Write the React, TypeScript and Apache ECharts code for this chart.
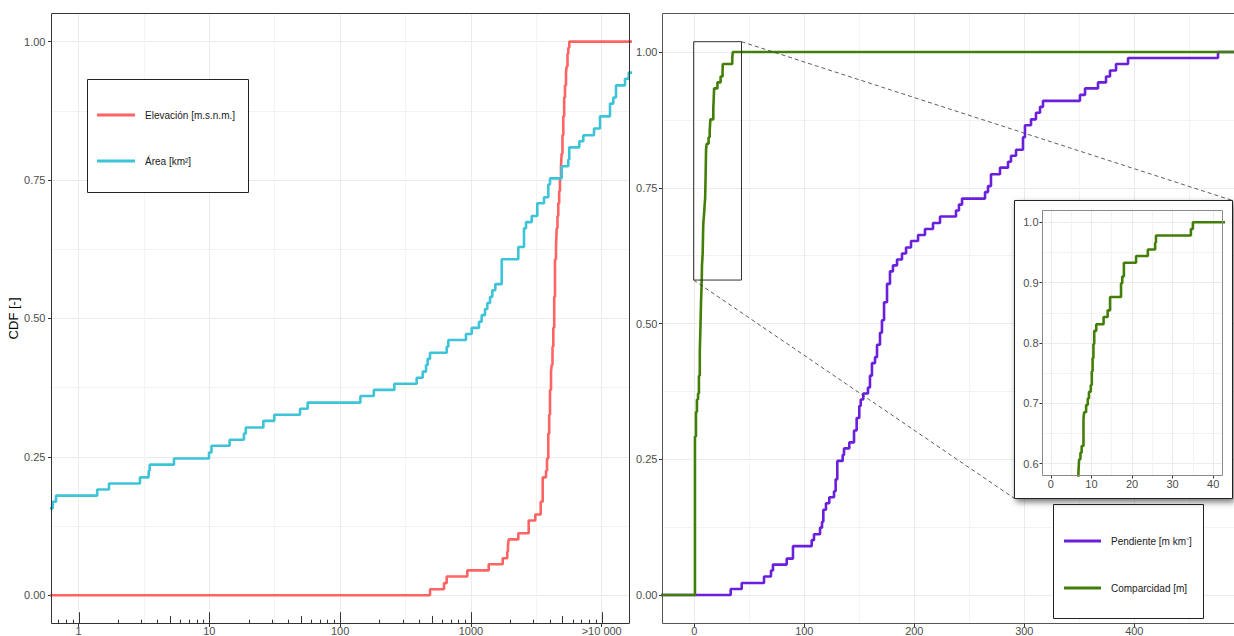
import React, { useEffect, useRef } from 'react';
import * as echarts from 'echarts';

// ---------------- data ----------------
// Left panel, log x: [value, CDF]
const elevacionCDF: number[][] = [
  [0.3, 0], [487, 0.011], [623, 0.022], [653, 0.034], [939, 0.045], [1368, 0.056], [1750, 0.067],
  [1897, 0.079], [1921, 0.09], [1945, 0.101], [2304, 0.112], [2766, 0.135], [3108, 0.146], [3417, 0.169],
  [3539, 0.213], [3752, 0.225], [3818, 0.247], [3906, 0.292], [3968, 0.326], [4025, 0.371], [4097, 0.404],
  [4148, 0.416], [4206, 0.449], [4266, 0.483], [4335, 0.539], [4395, 0.607], [4473, 0.629], [4529, 0.663],
  [4592, 0.685], [4657, 0.708], [4731, 0.73], [4798, 0.753], [4883, 0.775], [4944, 0.798], [5014, 0.831],
  [5085, 0.865], [5166, 0.899], [5240, 0.921], [5334, 0.944], [5399, 0.955], [5476, 0.978], [5555, 0.989],
  [5653, 1.0], [100000, 1.0],
];
const areaCDF: number[][] = [
  [0.3, 0.157], [0.635, 0.169], [0.673, 0.18], [1.39, 0.191], [1.71, 0.202], [2.95, 0.213], [3.44, 0.225],
  [3.5, 0.236], [5.37, 0.247], [9.95, 0.258], [10.4, 0.27], [14.3, 0.281], [18.4, 0.292], [19.0, 0.303],
  [25.9, 0.315], [31.4, 0.326], [49.4, 0.337], [56.5, 0.348], [143, 0.36], [181, 0.371], [260, 0.382],
  [385, 0.393], [428, 0.404], [454, 0.416], [467, 0.427], [487, 0.438], [653, 0.449], [672, 0.461],
  [917, 0.472], [1014, 0.483], [1153, 0.494], [1209, 0.506], [1282, 0.517], [1335, 0.528], [1400, 0.539],
  [1458, 0.551], [1537, 0.562], [1720, 0.607], [2304, 0.629], [2547, 0.663], [2638, 0.674], [2916, 0.685],
  [3218, 0.708], [3622, 0.719], [3906, 0.742], [4025, 0.753], [4945, 0.775], [5555, 0.787], [5653, 0.809],
  [6742, 0.82], [7234, 0.831], [8733, 0.843], [9706, 0.865], [11573, 0.888], [12265, 0.899], [12862, 0.921],
  [15074, 0.933], [16100, 0.944], [18000, 0.955], [20000, 0.966], [24000, 0.978], [28000, 0.989],
  [32000, 1.0], [100000, 1.0],
];
// Right panel, linear x: [value, CDF]
const pendienteCDF: number[][] = [
  [-100, 0], [33.1, 0.011], [43.1, 0.022], [63.4, 0.034], [69.7, 0.045], [71.5, 0.056], [84.0, 0.067],
  [89.7, 0.09], [106.7, 0.101], [108.8, 0.112], [114.3, 0.124], [116.1, 0.135], [117.3, 0.157],
  [119.7, 0.169], [122.7, 0.18], [127.0, 0.191], [128.5, 0.213], [130.0, 0.247], [134.9, 0.258],
  [136.1, 0.27], [140.9, 0.281], [145.2, 0.303], [147.6, 0.326], [150.0, 0.348], [151.3, 0.36],
  [153.6, 0.371], [157.9, 0.382], [159.7, 0.404], [161.5, 0.427], [164.3, 0.438], [166.1, 0.461],
  [168.8, 0.483], [170.6, 0.506], [172.5, 0.539], [175.2, 0.573], [177.9, 0.596], [180.6, 0.607],
  [184.3, 0.618], [188.8, 0.629], [192.5, 0.64], [197.0, 0.652], [203.4, 0.663], [209.7, 0.674],
  [217.0, 0.685], [223.4, 0.697], [237.9, 0.708], [240.6, 0.719], [243.4, 0.73], [264.3, 0.742],
  [267.0, 0.753], [269.7, 0.775], [277.9, 0.787], [285.2, 0.798], [287.9, 0.809], [292.5, 0.82],
  [298.8, 0.843], [300.6, 0.865], [306.1, 0.876], [310.6, 0.888], [314.3, 0.899], [317.0, 0.91],
  [350.6, 0.921], [355.2, 0.933], [367.0, 0.944], [374.3, 0.955], [377.9, 0.966], [383.4, 0.978],
  [394.3, 0.989], [476.1, 1.0], [1000, 1.0],
];
const comparcidadCDF: number[][] = [
  [-100, 0], [0.6, 0.292], [1.5, 0.337], [2.4, 0.36], [3.4, 0.371], [4.2, 0.404], [5.0, 0.449],
  [5.6, 0.494], [6.1, 0.539], [6.5, 0.562], [6.8, 0.584], [6.97, 0.607], [7.3, 0.618], [7.6, 0.629],
  [8.05, 0.674], [8.2, 0.685], [8.7, 0.697], [9.1, 0.708], [9.4, 0.719], [9.85, 0.73], [10.1, 0.753],
  [10.3, 0.775], [10.5, 0.798], [10.7, 0.82], [11.2, 0.831], [13.0, 0.843], [14.0, 0.854], [14.6, 0.876],
  [17.3, 0.899], [17.6, 0.91], [18.0, 0.933], [21.0, 0.944], [23.9, 0.955], [25.7, 0.966], [25.9, 0.978],
  [34.5, 0.989], [35.0, 1.0], [1000, 1.0],
];

// tick labels
const logTickLabels = ['1', '10', '100', '1000', '>10 000'];
const slopeTickLabels = ['0', '100', '200', '300', '400'];
const logTickDecades = [0.1, 1, 10, 100, 1000, 10000];
const logTickMantissas = [1, 2, 3, 4, 5, 6, 7, 8, 9];

// zoomed region of the right panel (data units)
const zoomBoxX = [-0.6, 42.9];
const zoomBoxY = [0.58, 1.019];

// series names
const NAME_ELEV = 'Elevación [m.s.n.m.]';
const NAME_AREA = 'Área [km²]';
const NAME_PEND = 'Pendiente [m km⁻]';
const NAME_COMP = 'Comparcidad [m]';

// ---------------- styling / layout ----------------
const FONT = '"Liberation Sans", Arial, Helvetica, sans-serif';
const RED = '#FF6464';
const CYAN = '#3EC4D8';
const PURPLE = '#6A1FDC';
const GREEN = '#437F08';
const GRID_MAJOR = '#EBEBEB';
const GRID_MINOR = '#F3F3F3';
const AXIS_TXT = '#4D4D4D';

const L = { x0: 51.5, x1: 629.5, y0: 13.5, y1: 623.5, dec1: 78.5, decPx: 130.8, zeroY: 595.3, unitY: 553.7 };
const R = { x0: 662.5, x1: 1240, y0: 13.5, y1: 623.5, zeroX: 694.3, unitX: 1.1, zeroY: 595, unitY: 543 };
const I = {
  bx0: 1014.5, by0: 200.5, bx1: 1232.5, by1: 498.5,
  x0: 1042.5, x1: 1222.5, y0: 210.5, y1: 475.5, zeroX: 1050.8, unitX: 4.06, oneY: 222.3, unitY: 603,
};

const LxMin = Math.pow(10, (L.x0 - L.dec1) / L.decPx);
const LxMax = Math.pow(10, (L.x1 - L.dec1) / L.decPx);
const LyMin = (L.zeroY - L.y1) / L.unitY;
const LyMax = (L.zeroY - L.y0) / L.unitY;
const RxMin = (R.x0 - R.zeroX) / R.unitX;
const RxMax = (R.x1 - R.zeroX) / R.unitX;
const RyMin = (R.zeroY - R.y1) / R.unitY;
const RyMax = (R.zeroY - R.y0) / R.unitY;
const IxMin = (I.x0 - I.zeroX) / I.unitX;
const IxMax = (I.x1 - I.zeroX) / I.unitX;
const IyMax = 1 + (I.oneY - I.y0) / I.unitY;
const IyMin = 1 - (I.y1 - I.oneY) / I.unitY;
const rx = (px: number) => (px - R.zeroX) / R.unitX;
const ry = (py: number) => (R.zeroY - py) / R.unitY;

const logTickData: number[][] = [];
logTickDecades.forEach((d) =>
  logTickMantissas.forEach((m) => {
    const v = d * m;
    if (v >= LxMin && v <= LxMax) logTickData.push([v, LyMin, m === 1 ? 2 : m === 5 ? 1 : 0]);
  })
);

const gridBox = (left: number, top: number, width: number, height: number, extra: any = {}) => ({
  left, top, width, height, containLabel: false, outerBoundsMode: 'none', show: false, ...extra,
});
const hiddenAxis = (gridIndex: number, min = 0, max = 1, type = 'value') => ({
  gridIndex, type, min, max, show: false,
});
const labelStyle = (margin: number, formatter: any) => ({
  show: true, color: AXIS_TXT, fontSize: 11, fontFamily: FONT, margin, formatter,
});
const splitStyles = (z = 0) => ({
  axisLine: { show: false },
  splitLine: { show: true, lineStyle: { color: GRID_MAJOR, width: 1 } },
  minorTick: { show: false, splitNumber: 2 },
  minorSplitLine: { show: true, lineStyle: { color: GRID_MINOR, width: 1 } },
  z,
});

const stepLine = (name: string, data: number[][], color: string, xi: number, z = 2) => ({
  type: 'line', name, data, step: 'end', xAxisIndex: xi, yAxisIndex: xi,
  symbol: 'none', showSymbol: false, clip: true, silent: true, z,
  lineStyle: { color, width: 2.6 }, itemStyle: { color },
});

export default function App() {
  const ref = useRef<HTMLDivElement>(null);
  useEffect(() => {
    const chart = echarts.init(ref.current!, null, { renderer: 'svg' });
    const option: any = {
      animation: false,
      backgroundColor: '#fff',
      textStyle: { fontFamily: FONT },
      grid: [
        gridBox(L.x0, L.y0, L.x1 - L.x0, L.y1 - L.y0, { show: true, borderColor: '#333', borderWidth: 1, backgroundColor: 'transparent', z: 5 }),
        gridBox(L.dec1, L.y0, 4 * L.decPx, L.y1 - L.y0),
        gridBox(L.x0, L.zeroY - L.unitY, L.x1 - L.x0, L.unitY),
        gridBox(R.x0, R.y0, R.x1 - R.x0, R.y1 - R.y0, { show: true, borderColor: '#555', borderWidth: 1, backgroundColor: 'transparent', z: 5 }),
        gridBox(R.zeroX, R.y0, 500 * R.unitX, R.y1 - R.y0),
        gridBox(R.x0, R.zeroY - R.unitY, R.x1 - R.x0, R.unitY),
        gridBox(I.x0, I.y0, I.x1 - I.x0, I.y1 - I.y0, { show: true, borderColor: '#8a8a8a', borderWidth: 1, backgroundColor: 'transparent', z: 24 }),
        gridBox(I.zeroX, I.y0, 40 * I.unitX, I.y1 - I.y0),
        gridBox(I.x0, I.oneY, I.x1 - I.x0, 0.4 * I.unitY),
      ],
      xAxis: [
        hiddenAxis(0, LxMin, LxMax, 'log'),
        {
          gridIndex: 1, type: 'value', min: 0, max: 4, interval: 1, position: 'bottom',
          axisTick: { show: true, length: 3.5, lineStyle: { color: '#333' } },
          axisLabel: labelStyle(2, (v: number) => logTickLabels[Math.round(v)] ?? ''),
          ...splitStyles(0),
        },
        hiddenAxis(2),
        hiddenAxis(3, RxMin, RxMax),
        {
          gridIndex: 4, type: 'value', min: 0, max: 500, interval: 100, position: 'bottom',
          axisTick: { show: true, length: 3.5, lineStyle: { color: '#333' } },
          axisLabel: labelStyle(2, (v: number) => slopeTickLabels[Math.round(v / 100)] ?? ''),
          ...splitStyles(0),
        },
        hiddenAxis(5),
        hiddenAxis(6, IxMin, IxMax),
        {
          gridIndex: 7, type: 'value', min: 0, max: 40, interval: 10, position: 'bottom',
          axisTick: { show: true, length: 3, lineStyle: { color: '#333' } },
          axisLabel: labelStyle(3, (v: number) => String(Math.round(v))),
          ...splitStyles(21),
        },
        hiddenAxis(8),
      ],
      yAxis: [
        hiddenAxis(0, LyMin, LyMax),
        hiddenAxis(1),
        {
          gridIndex: 2, type: 'value', min: 0, max: 1, interval: 0.25, position: 'left',
          axisTick: { show: true, length: 3.5, lineStyle: { color: '#333' } },
          axisLabel: labelStyle(6, (v: number) => v.toFixed(2)),
          name: 'CDF [-]', nameLocation: 'middle', nameGap: 22, nameRotate: 90,
          nameTextStyle: { fontSize: 13, color: '#000', fontFamily: FONT },
          ...splitStyles(0),
        },
        hiddenAxis(3, RyMin, RyMax),
        hiddenAxis(4),
        {
          gridIndex: 5, type: 'value', min: 0, max: 1, interval: 0.25, position: 'left',
          axisTick: { show: true, length: 3.5, lineStyle: { color: '#333' } },
          axisLabel: labelStyle(5, (v: number) => v.toFixed(2)),
          ...splitStyles(0),
        },
        hiddenAxis(6, IyMin, IyMax),
        hiddenAxis(7),
        {
          gridIndex: 8, type: 'value', min: 0.6, max: 1.0, interval: 0.1, position: 'left',
          axisTick: { show: true, length: 3, lineStyle: { color: '#333' } },
          axisLabel: labelStyle(4, (v: number) => v.toFixed(1)),
          ...splitStyles(21),
        },
      ],
      legend: [
        {
          data: [NAME_ELEV, NAME_AREA], orient: 'vertical', left: 97, top: 109, padding: 0,
          itemWidth: 38, itemHeight: 3, itemGap: 34, icon: 'rect', selectedMode: false, z: 7,
          textStyle: { fontSize: 10, color: '#1a1a1a', fontFamily: FONT, padding: [0, 0, 0, 5], lineHeight: 12 },
        },
        {
          data: [NAME_PEND, NAME_COMP], orient: 'vertical', left: 1064, top: 535, padding: 0,
          itemWidth: 37, itemHeight: 3, itemGap: 35, icon: 'rect', selectedMode: false, z: 7,
          textStyle: { fontSize: 10, color: '#1a1a1a', fontFamily: FONT, padding: [0, 0, 0, 5], lineHeight: 12 },
        },
      ],
      graphic: [
        { type: 'rect', z: 6, shape: { x: 87.5, y: 79.5, width: 161, height: 113 }, style: { fill: '#fff', stroke: '#222', lineWidth: 1 } },
        { type: 'rect', z: 6, shape: { x: 1053.5, y: 504.5, width: 150, height: 114 }, style: { fill: '#fff', stroke: '#222', lineWidth: 1 } },
        {
          type: 'rect', z: 20,
          shape: { x: I.bx0, y: I.by0, width: I.bx1 - I.bx0, height: I.by1 - I.by0 },
          style: { fill: '#fff', stroke: '#222', lineWidth: 1, shadowBlur: 6, shadowOffsetX: 2, shadowOffsetY: 3, shadowColor: 'rgba(0,0,0,0.55)' },
        },
      ],
      series: [
        stepLine(NAME_ELEV, elevacionCDF, RED, 0),
        stepLine(NAME_AREA, areaCDF, CYAN, 0),
        {
          type: 'custom', xAxisIndex: 0, yAxisIndex: 0, data: logTickData, silent: true, z: 3,
          encode: { x: 0, y: 1 },
          renderItem: (params: any, api: any) => {
            const p = api.coord([api.value(0), api.value(1)]);
            const kind = api.value(2);
            const len = kind === 2 ? 11.3 : kind === 1 ? 7.6 : 3.8;
            const x = Math.round(p[0]) + 0.5;
            return { type: 'line', shape: { x1: x, y1: p[1], x2: x, y2: p[1] - len }, style: { stroke: '#333', lineWidth: 1 } };
          },
        },
        stepLine(NAME_PEND, pendienteCDF, PURPLE, 3),
        stepLine(NAME_COMP, comparcidadCDF, GREEN, 3),
        {
          type: 'line', name: 'zoomBox', xAxisIndex: 3, yAxisIndex: 3, symbol: 'none', silent: true, z: 3, clip: false,
          data: [
            [zoomBoxX[0], zoomBoxY[0]], [zoomBoxX[1], zoomBoxY[0]], [zoomBoxX[1], zoomBoxY[1]],
            [zoomBoxX[0], zoomBoxY[1]], [zoomBoxX[0], zoomBoxY[0]],
          ],
          lineStyle: { color: '#333', width: 1 },
        },
        {
          type: 'line', name: 'connTop', xAxisIndex: 3, yAxisIndex: 3, symbol: 'none', silent: true, z: 3, clip: false,
          data: [[zoomBoxX[1], zoomBoxY[1]], [rx(I.bx1), ry(I.by0)]],
          lineStyle: { color: '#333', width: 0.8, type: [4, 3] },
        },
        {
          type: 'line', name: 'connBottom', xAxisIndex: 3, yAxisIndex: 3, symbol: 'none', silent: true, z: 3, clip: false,
          data: [[zoomBoxX[0], zoomBoxY[0]], [rx(I.bx0), ry(I.by1)]],
          lineStyle: { color: '#333', width: 0.8, type: [4, 3] },
        },
        { ...stepLine('Comparcidad (detalle)', comparcidadCDF, GREEN, 6, 23) },
      ],
    };
    chart.setOption(option);
    return () => chart.dispose();
  }, []);
  return (
    <div
      ref={ref}
      style={{ position: 'fixed', left: 0, top: 0, width: 1234, height: 636, background: '#fff' }}
    />
  );
}
